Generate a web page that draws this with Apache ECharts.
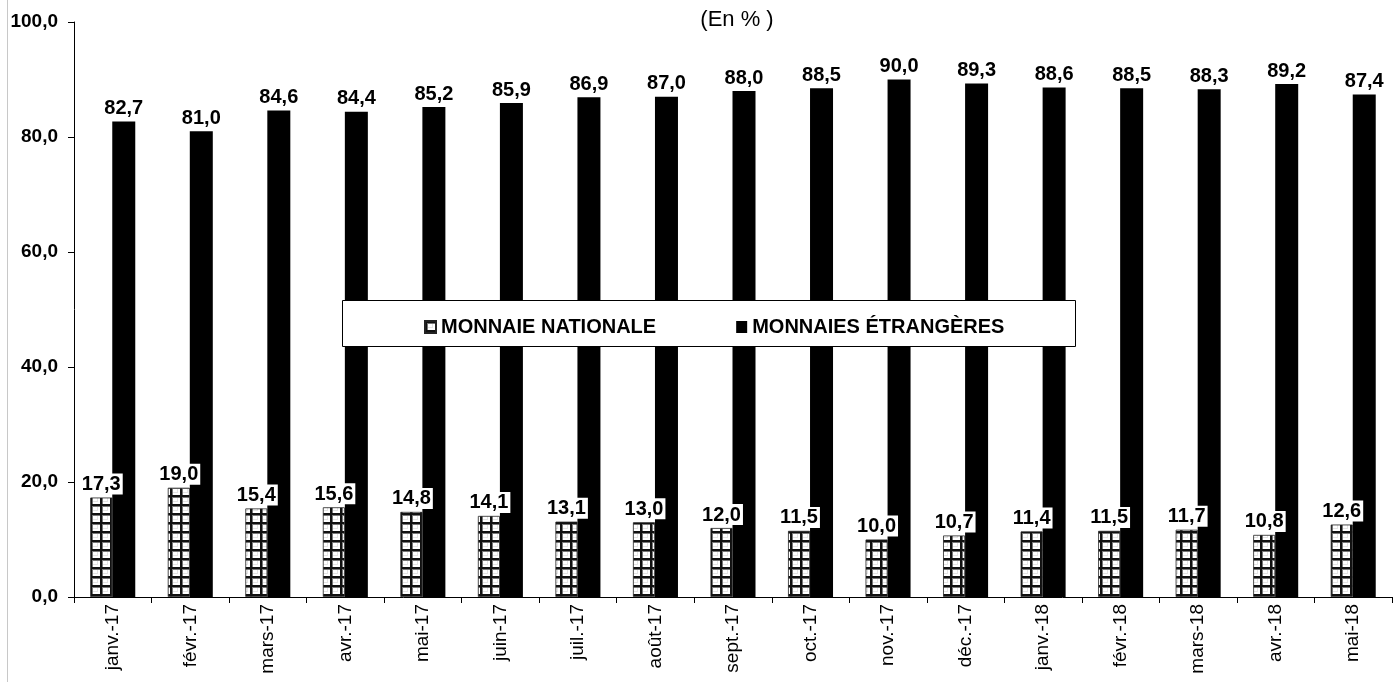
<!DOCTYPE html>
<html><head><meta charset="utf-8">
<script src="https://cdn.jsdelivr.net/npm/echarts@6/dist/echarts.min.js"></script>
<style>html,body{margin:0;padding:0;background:#fff}#c{width:1397px;height:682px}</style>
</head><body><div id="c"></div>
<script>
const categories = ['janv.-17','févr.-17','mars-17','avr.-17','mai-17','juin-17','juil.-17','août-17','sept.-17','oct.-17','nov.-17','déc.-17','janv.-18','févr.-18','mars-18','avr.-18','mai-18'];
const nationale = [17.3,19.0,15.4,15.6,14.8,14.1,13.1,13.0,12.0,11.5,10.0,10.7,11.4,11.5,11.7,10.8,12.6];
const etrangeres = [82.7,81.0,84.6,84.4,85.2,85.9,86.9,87.0,88.0,88.5,90.0,89.3,88.6,88.5,88.3,89.2,87.4];
const yTicks = [0,20,40,60,80,100];

const FONT = 'Liberation Sans, Arial, sans-serif';
function makePattern(){
  const c = document.createElement('canvas');
  c.width = 10; c.height = 9;
  const g = c.getContext('2d');
  g.fillStyle = '#ffffff'; g.fillRect(0,0,10,9);
  g.fillStyle = '#e4e4e4'; g.fillRect(2,2,6,5);
  g.fillStyle = '#ffffff'; g.fillRect(3,3,4,3);
  g.fillStyle = '#777777'; g.fillRect(0,0,10,3); g.fillRect(0,0,3,9);
  g.fillStyle = '#111111'; g.fillRect(0,0,10,2); g.fillRect(0,0,2,9);
  return c;
}
const pat = {image: makePattern(), repeat: 'repeat'};
const fmt = v => v.toFixed(1).replace('.', ',');
const lbl = {
  show: true, position: 'top', distance: 3,
  formatter: p => fmt(p.value),
  color: '#000', fontFamily: FONT, fontWeight: 'bold', fontSize: 20,
  backgroundColor: '#fff', padding: [1,2,0,2]
};
const chart = echarts.init(document.getElementById('c'));
chart.setOption({
  animation: false,
  title: {text: '(En % )', left: 732, top: 4, textAlign: 'center',
    textStyle: {fontFamily: FONT, fontWeight: 'normal', fontSize: 22, color: '#000'}},
  grid: {left: 74, right: 5, top: 22, bottom: 85},
  graphic: [
    {type: 'line', shape: {x1: 7.5, y1: 0, x2: 7.5, y2: 682}, style: {stroke: '#c8c8c8', lineWidth: 1}, z: 1},
    {type: 'rect', shape: {x: 342.5, y: 300.5, width: 733, height: 46}, style: {fill: '#fff', stroke: '#000', lineWidth: 1}, z: 10}
  ],
  legend: {
    left: 419, top: 312, z: 20, itemWidth: 11, itemHeight: 12, itemGap: 80,
    icon: 'rect',
    textStyle: {fontFamily: FONT, fontWeight: 'bold', fontSize: 20, color: '#000'},
    data: ['MONNAIE NATIONALE', 'MONNAIES ÉTRANGÈRES']
  },
  xAxis: {
    type: 'category', data: categories,
    axisLine: {lineStyle: {color: '#000', width: 1}},
    axisTick: {show: true, alignWithLabel: false, length: 6, lineStyle: {color: '#000'}},
    axisLabel: {rotate: 90, color: '#000', fontFamily: FONT, fontSize: 19, margin: 7, interval: 0}
  },
  yAxis: {
    type: 'value', min: 0, max: 100, interval: 20,
    splitLine: {show: false},
    axisLine: {show: true, lineStyle: {color: '#000'}},
    axisTick: {show: true, length: 6, lineStyle: {color: '#000'}},
    axisLabel: {color: '#000', fontFamily: FONT, fontWeight: 'bold', fontSize: 19, margin: 16,
      formatter: v => yTicks.includes(v) ? fmt(v) : ''}
  },
  series: [
    {name: 'MONNAIE NATIONALE', type: 'bar', data: nationale, barWidth: 22, barGap: '0%',
      itemStyle: {color: pat, borderColor: '#222', borderWidth: 0.8}, label: lbl},
    {name: 'MONNAIES ÉTRANGÈRES', type: 'bar', data: etrangeres, barWidth: 23,
      itemStyle: {color: '#000'}, label: lbl}
  ]
});
</script></body></html>
